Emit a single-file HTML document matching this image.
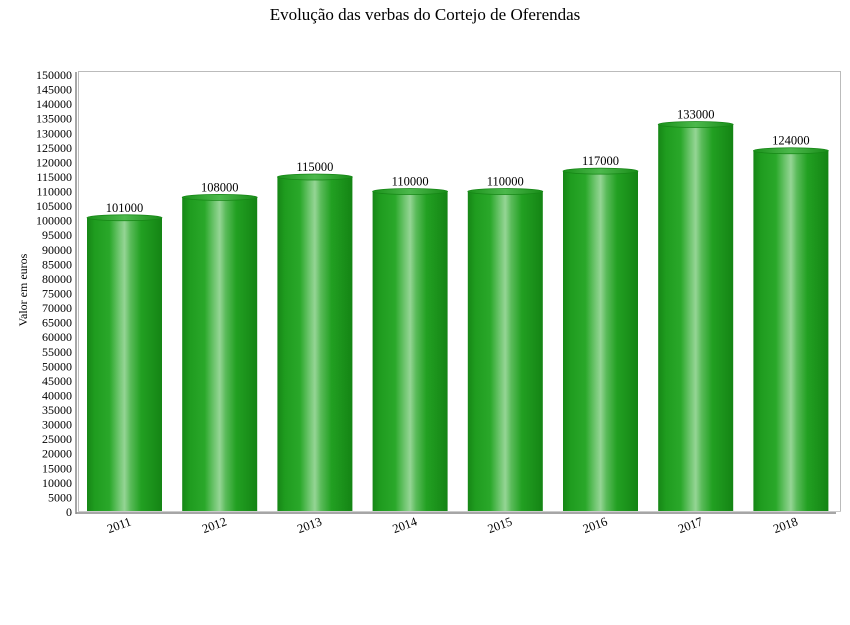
<!DOCTYPE html>
<html><head><meta charset="utf-8"><style>
html,body{margin:0;padding:0;background:#fff;width:850px;height:625px;overflow:hidden}
text{font-family:"Liberation Serif",serif;fill:#000}
</style></head><body>
<svg width="850" height="625" xmlns="http://www.w3.org/2000/svg">
<defs>
<linearGradient id="g" x1="0" x2="1" y1="0" y2="0">
<stop offset="0" stop-color="#168616"/>
<stop offset="0.1" stop-color="#1f9c1f"/>
<stop offset="0.3" stop-color="#2aa82a"/>
<stop offset="0.42" stop-color="#6cc46c"/>
<stop offset="0.5" stop-color="#95d595"/>
<stop offset="0.58" stop-color="#5abb5a"/>
<stop offset="0.72" stop-color="#22a022"/>
<stop offset="1" stop-color="#148414"/>
</linearGradient>
<linearGradient id="c" x1="0" x2="1" y1="0" y2="0">
<stop offset="0" stop-color="#1a921a"/>
<stop offset="0.5" stop-color="#4cb84c"/>
<stop offset="1" stop-color="#178c17"/>
</linearGradient>
</defs>
<text x="425" y="20" font-size="17" text-anchor="middle">Evolução das verbas do Cortejo de Oferendas</text>
<rect x="78.5" y="71.5" width="762" height="440" fill="#fff" stroke="#bbb"/>
<line x1="76" y1="72" x2="76" y2="514" stroke="#888" stroke-width="1.5"/>
<line x1="76" y1="513" x2="836" y2="513" stroke="#888" stroke-width="1.5"/>
<line x1="78" y1="511.5" x2="841" y2="511.5" stroke="#ccc"/>
<g id="yl" font-size="12" text-anchor="end"></g>
<text transform="translate(27,290) rotate(-90)" font-size="12" text-anchor="middle">Valor em euros</text>
<g id="bars"></g>
</svg>
<script>
var ns="http://www.w3.org/2000/svg";
var yl=document.getElementById("yl");
function Y(v){return 512-v*437/150000;}
for(var v=0;v<=150000;v+=5000){var t=document.createElementNS(ns,"text");t.setAttribute("x",72);t.setAttribute("y",Y(v)+4);t.textContent=v;yl.appendChild(t);}
var d=[101000,108000,115000,110000,110000,117000,133000,124000];
var b=document.getElementById("bars");var h="";
for(var i=0;i<8;i++){var x=87+i*95.2,w=75,y=Y(d[i]),cx=x+w/2;
h+='<rect x="'+x+'" y="'+y+'" width="'+w+'" height="'+(511-y)+'" fill="url(#g)"/>';
h+='<ellipse cx="'+cx+'" cy="'+y+'" rx="'+(w/2)+'" ry="3" fill="url(#c)" stroke="#168616" stroke-width="0.8"/>';
h+='<text x="'+cx+'" y="'+(y-6)+'" font-size="12.5" text-anchor="middle">'+d[i]+'</text>';
h+='<text transform="translate('+(cx-4)+',529) rotate(-20)" font-size="12.5" text-anchor="middle">'+(2011+i)+'</text>';}
b.innerHTML=h;
</script>
</body></html>
